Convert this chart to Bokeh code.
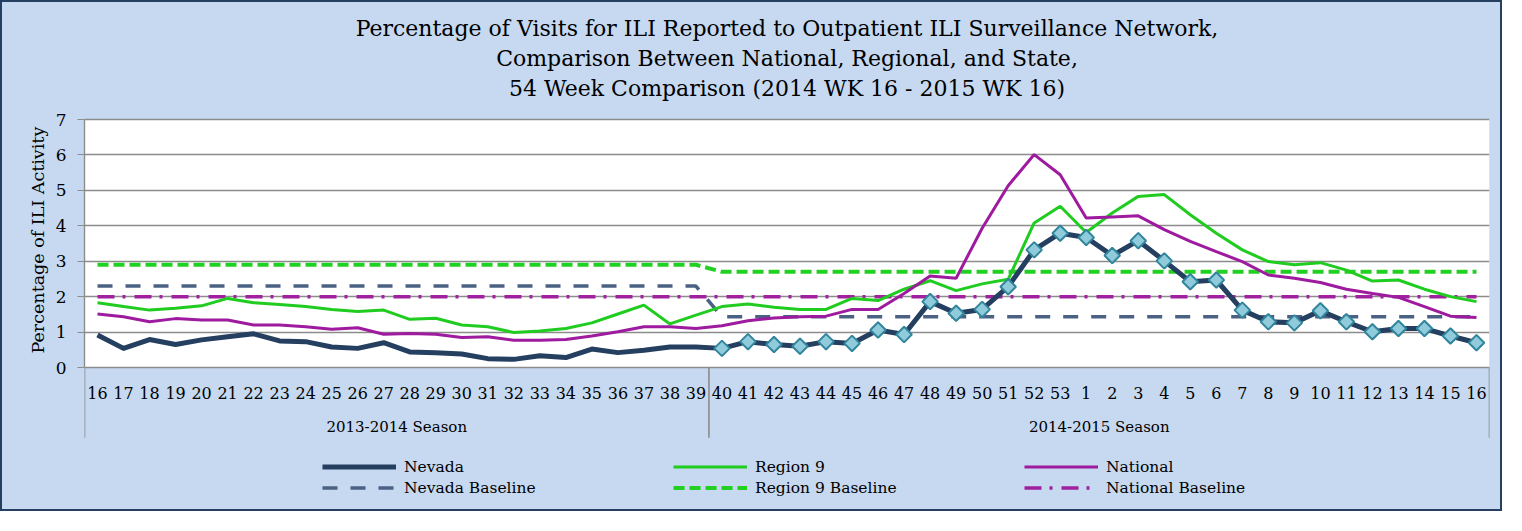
from bokeh.plotting import figure
from bokeh.models import ColumnDataSource, FixedTicker, Legend, LegendItem, Range1d, Title
from bokeh.embed import file_html
from bokeh.resources import INLINE
from bokeh.core.properties import value

# ---------------- data ----------------
title_lines = [
    "Percentage of Visits for ILI Reported to Outpatient ILI Surveillance Network,",
    "Comparison Between National, Regional, and State,",
    "54 Week Comparison (2014 WK 16 - 2015 WK 16)",
]
y_label = "Percentage of ILI Activity"
season_labels = ["2013-2014 Season", "2014-2015 Season"]
weeks_2013_2014 = ["16", "17", "18", "19", "20", "21", "22", "23", "24", "25", "26", "27",
                   "28", "29", "30", "31", "32", "33", "34", "35", "36", "37", "38", "39"]
weeks_2014_2015 = ["40", "41", "42", "43", "44", "45", "46", "47", "48", "49", "50", "51",
                   "52", "53", "1", "2", "3", "4", "5", "6", "7", "8", "9", "10", "11",
                   "12", "13", "14", "15", "16"]

nevada = [0.92, 0.54, 0.79, 0.65, 0.78, 0.87, 0.95, 0.75, 0.73, 0.58, 0.54, 0.70,
          0.44, 0.42, 0.38, 0.25, 0.23, 0.33, 0.28, 0.52, 0.42, 0.49, 0.58, 0.58,
          0.54, 0.73, 0.65, 0.60, 0.73, 0.68, 1.06, 0.93, 1.86, 1.53, 1.64, 2.28,
          3.32, 3.79, 3.67, 3.16, 3.58, 3.01, 2.42, 2.47, 1.62, 1.29, 1.26, 1.60,
          1.29, 1.01, 1.10, 1.10, 0.89, 0.70]
region9 = [1.83, 1.72, 1.62, 1.67, 1.74, 1.95, 1.83, 1.78, 1.72, 1.64, 1.58, 1.62,
           1.36, 1.39, 1.20, 1.15, 0.99, 1.03, 1.10, 1.26, 1.51, 1.76, 1.23, 1.48,
           1.72, 1.79, 1.70, 1.64, 1.64, 1.95, 1.89, 2.21, 2.45, 2.17, 2.36, 2.49,
           4.08, 4.55, 3.81, 4.36, 4.83, 4.88, 4.31, 3.79, 3.32, 2.99, 2.90, 2.96,
           2.75, 2.44, 2.47, 2.21, 2.00, 1.86]
national = [1.51, 1.43, 1.29, 1.38, 1.34, 1.34, 1.20, 1.20, 1.15, 1.08, 1.12, 0.94,
            0.96, 0.94, 0.85, 0.87, 0.77, 0.77, 0.79, 0.89, 1.01, 1.15, 1.15, 1.10,
            1.18, 1.32, 1.40, 1.43, 1.45, 1.64, 1.64, 2.09, 2.58, 2.52, 3.93, 5.13,
            6.01, 5.44, 4.22, 4.25, 4.28, 3.89, 3.56, 3.27, 2.99, 2.61, 2.52, 2.40,
            2.21, 2.09, 1.98, 1.72, 1.45, 1.41]
# baseline per season (2013-2014, 2014-2015)
nevada_baseline_by_season = [2.3, 1.43]
region9_baseline_by_season = [2.9, 2.7]
national_baseline_by_season = [2.0, 2.0]
y_ticks = [0, 1, 2, 3, 4, 5, 6, 7]

# ---------------- derived ----------------
n1, n2 = len(weeks_2013_2014), len(weeks_2014_2015)
weeks = weeks_2013_2014 + weeks_2014_2015
n = len(weeks)
x = list(range(n))


def per_season(vals):
    return [vals[0]] * n1 + [vals[1]] * n2


src = ColumnDataSource(dict(
    x=x, week=weeks, nevada=nevada, region9=region9, national=national,
    nevada_b=per_season(nevada_baseline_by_season),
    region9_b=per_season(region9_baseline_by_season),
    national_b=per_season(national_baseline_by_season),
))
src_markers = ColumnDataSource(dict(x=x[n1:], y=nevada[n1:]))

FONT = "DejaVu Serif"
BG = "#C6D9F1"
GRID = "#8C8C8C"
W, H = 1502, 511
ML, MR, MT, MB = 82, 15, 99, 4
PX_PER_UNIT = 35.43
TOP_GAP_PX = 18          # blue gap between the title and the top gridline
frame_h = H - MT - MB
y_max = max(y_ticks)
y_range_top = y_max + TOP_GAP_PX / PX_PER_UNIT
y_bottom = y_range_top - frame_h / PX_PER_UNIT
# y-axis title: start it so that it is centred on the 0..7 span
YLAB_HALF_LEN = 110
ylab_offset = (y_max / 2 - y_bottom) * PX_PER_UNIT - YLAB_HALF_LEN

p = figure(width=W, height=H, output_backend="svg", toolbar_location=None,
           x_range=Range1d(-0.5, n - 0.5), y_range=Range1d(y_bottom, y_range_top),
           x_axis_location=None,
           min_border_left=ML, min_border_right=MR, min_border_top=MT, min_border_bottom=MB)
p.styles = {"border": "2px solid #243F60", "background-color": BG}
p.background_fill_color = BG
p.border_fill_color = BG
p.outline_line_color = None


def style_title(t, standoff, size="22px"):
    t.align = "center"
    t.text_font = FONT
    t.text_font_style = "normal"
    t.text_font_size = size
    t.text_color = "black"
    t.standoff = standoff


# title: three centred lines (first added Title sits closest to the plot)
p.title.text = title_lines[0]
style_title(p.title, 3)
t3 = Title(text=title_lines[2])
style_title(t3, 2)
p.add_layout(t3, "above")
t2 = Title(text=title_lines[1])
style_title(t2, 3)
p.add_layout(t2, "above")

# white plotting area
p.quad(left=-0.5, right=n - 0.5, bottom=0, top=y_max, fill_color="white", line_color=None, level="image")

# grid
p.xgrid.visible = False
p.ygrid.ticker = FixedTicker(ticks=y_ticks)
p.ygrid.grid_line_color = GRID
p.ygrid.grid_line_width = 1.4

# y axis
yax = p.yaxis[0]
yax.bounds = (0, y_max)
yax.ticker = FixedTicker(ticks=y_ticks)
yax.axis_line_color = GRID
yax.axis_line_width = 1.4
yax.major_tick_line_color = GRID
yax.major_tick_out = 7
yax.major_tick_in = 0
yax.minor_tick_line_color = None
yax.major_label_text_font = FONT
yax.major_label_text_font_size = "17px"
yax.major_label_text_color = "black"
yax.major_label_standoff = 11

# y-axis title, centred on the 0..7 span
ylab = Title(text=y_label, align="left", offset=ylab_offset)
ylab.text_font = FONT
ylab.text_font_style = "normal"
ylab.text_font_size = "17.5px"
ylab.text_color = "black"
ylab.standoff = 10
p.add_layout(ylab, "left")

# category labels & season separators
p.text(x="x", y=-0.73, text="week", source=src, text_font=value(FONT), text_font_size="16px",
       text_align="center", text_baseline="middle", text_color="black")
season_x = [(n1 - 1) / 2, n1 + (n2 - 1) / 2]
p.text(x=season_x, y=[-1.67, -1.67], text=season_labels, text_font=value(FONT), text_font_size="15px",
       text_align="center", text_baseline="middle", text_color="black")
sep_x = [-0.5, n1 - 0.5, n - 0.5]
p.segment(x0=sep_x, y0=[0] * 3, x1=sep_x, y1=[-1.98] * 3, line_color=GRID, line_width=1.6)

# baselines
r_nvb = p.line("x", "nevada_b", source=src, line_color="#4A6184", line_width=3.5, line_dash="15 13")
r_r9b = p.line("x", "region9_b", source=src, line_color="#22D022", line_width=4, line_dash="11 5")
r_natb = p.line("x", "national_b", source=src, line_color="#A020A0", line_width=3.5, line_dash="17 8 3 9")

# series
r_r9 = p.line("x", "region9", source=src, line_color="#1FCC1F", line_width=3)
r_nat = p.line("x", "national", source=src, line_color="#9E1A9E", line_width=3)
r_nv = p.line("x", "nevada", source=src, line_color="#243F60", line_width=5, line_join="round")
p.scatter("x", "y", source=src_markers, marker="square", angle=0.785398, size=11,
          fill_color="#8FCBDB", line_color="#31859C", line_width=2)


def make_legend(items, loc):
    lg = Legend(items=items, location=loc)
    lg.background_fill_alpha = 0
    lg.border_line_alpha = 0
    lg.padding = 0
    lg.margin = 0
    lg.spacing = 2
    lg.glyph_width = 74
    lg.glyph_height = 19
    lg.label_height = 19
    lg.label_standoff = 8
    lg.label_text_font = FONT
    lg.label_text_font_size = "15.5px"
    lg.label_text_color = "black"
    return lg


p.add_layout(make_legend([LegendItem(label="Nevada", renderers=[r_nv]),
                          LegendItem(label="Nevada Baseline", renderers=[r_nvb])], (238, 12)), "center")
p.add_layout(make_legend([LegendItem(label="Region 9", renderers=[r_r9]),
                          LegendItem(label="Region 9 Baseline", renderers=[r_r9b])], (589, 12)), "center")
p.add_layout(make_legend([LegendItem(label="National", renderers=[r_nat]),
                          LegendItem(label="National Baseline", renderers=[r_natb])], (940, 12)), "center")

open("out.html", "w").write(file_html(p, INLINE))
